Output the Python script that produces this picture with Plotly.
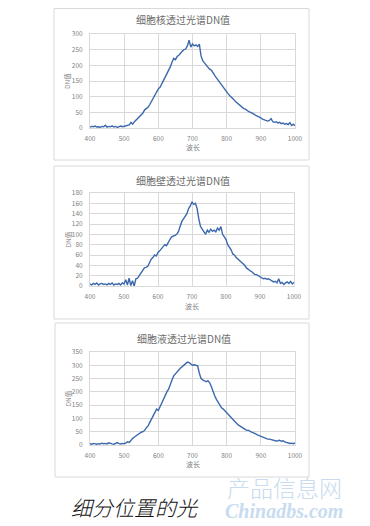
import plotly.graph_objects as go

wavelength = list(range(400, 1001, 5))

nucleus = [3, 5, 4, 6, 3, 4, 2, 5, 4, 9, 3, 5, 4, 7, 3, 5, 2, 4, 6, 4,
           5, 8, 7, 10, 18, 12, 20, 26, 32, 38, 45, 48, 58, 62, 66, 75, 85, 95, 105, 115,
           125, 130, 140, 155, 165, 175, 185, 195, 210, 222, 218, 228, 232, 240, 245, 250, 252, 262, 280, 258,
           268, 262, 265, 260, 268, 230, 215, 208, 200, 192, 188, 185, 175, 168, 160, 152, 148, 140, 132, 122,
           115, 108, 102, 98, 92, 85, 80, 76, 70, 66, 62, 60, 55, 52, 50, 48, 44, 40, 38, 35,
           32, 28, 26, 25, 22, 24, 30, 20, 18, 20, 16, 18, 14, 16, 12, 14, 11, 17, 8, 12,
           7]

cell_wall = [4, 2, 5, 3, 6, 2, 4, 5, 3, 4, 2, 5, 3, 6, 2, 4, 3, 5, 2, 6,
             4, 12, 2, 15, 1, 10, 0, 14, 15, 20, 25, 30, 35, 36, 38, 45, 52, 55, 60, 58,
             65, 68, 72, 75, 80, 78, 85, 90, 95, 96, 98, 100, 105, 115, 125, 130, 135, 140, 150, 155,
             163, 158, 160, 150, 130, 115, 110, 105, 100, 108, 104, 110, 106, 108, 105, 112, 108, 115, 100, 95,
             90, 80, 75, 70, 62, 60, 55, 52, 48, 45, 42, 40, 35, 32, 30, 28, 25, 22, 22, 20,
             18, 16, 14, 15, 13, 14, 12, 10, 8, 9, 6, 14, 5, 7, 3, 6, 8, 5, 9, 4,
             7]

cytoplasm = [5, 3, 6, 4, 3, 5, 4, 7, 5, 6, 4, 8, 5, 4, 3, 6, 9, 5, 4, 6,
             5, 8, 12, 10, 20, 25, 30, 35, 40, 45, 48, 50, 55, 65, 72, 85, 98, 110, 125, 135,
             130, 145, 160, 175, 190, 200, 210, 230, 245, 260, 268, 275, 280, 290, 295, 300, 308, 312, 310, 305,
             300, 302, 300, 298, 270, 250, 245, 240, 238, 242, 235, 220, 200, 185, 172, 160, 150, 140, 135, 128,
             120, 112, 105, 98, 90, 85, 80, 75, 70, 65, 62, 58, 55, 55, 50, 48, 45, 42, 38, 35,
             32, 30, 28, 25, 22, 22, 20, 18, 17, 15, 16, 18, 14, 16, 12, 10, 8, 6, 7, 5,
             8]

titles = ["细胞核透过光谱DN值", "细胞壁透过光谱DN值", "细胞液透过光谱DN值"]
x_title = "波长"
y_title = "DN值"
caption = "细分位置的光"
y_ranges = [(0, 300, 50), (0, 180, 20), (0, 350, 50)]
series = [nucleus, cell_wall, cytoplasm]

# the page body adds an 8px margin, so draw in a slightly smaller canvas
OFF = 8
W, H = 370 - OFF, 526 - OFF
def px(x): return (x - OFF) / W
def py(y): return 1 - (y - OFF) / H

panels = [
    dict(box=(54, 8.5, 309, 160), plot=(90, 34, 295, 128), title_y=20, xtitle_y=147),
    dict(box=(54, 166, 309, 319), plot=(90, 193, 294, 286), title_y=180, xtitle_y=306),
    dict(box=(55, 323, 309, 477), plot=(90, 352, 295, 445), title_y=338, xtitle_y=464),
]

FONT = "Noto Sans CJK SC"
LINE = "#3d68ad"
GRID = "#d9d9d9"
TXT = "#7f7f7f"
TITLE = "#6b6b6b"

fig = go.Figure()
layout = dict(width=W, height=H, margin=dict(l=0, r=0, t=0, b=0, pad=0),
              paper_bgcolor="white", plot_bgcolor="white", showlegend=False,
              font=dict(family=FONT, color=TXT), shapes=[], annotations=[])

for i, (p, ys, yr, t) in enumerate(zip(panels, series, y_ranges, titles)):
    n = "" if i == 0 else str(i + 1)
    fig.add_trace(go.Scatter(x=wavelength, y=ys, mode="lines",
                             line=dict(color=LINE, width=1.4),
                             xaxis="x" + n, yaxis="y" + n, hoverinfo="skip"))
    x0, y0, x1, y1 = p["plot"]
    layout["xaxis" + n] = dict(domain=[px(x0), px(x1)], anchor="y" + n, range=[400, 1000],
                               tickmode="linear", tick0=400, dtick=100, showgrid=True,
                               gridcolor=GRID, gridwidth=1, showline=True, linecolor=GRID,
                               mirror=True, zeroline=False, ticks="outside", ticklen=4,
                               tickcolor="rgba(0,0,0,0)", automargin=False,
                               tickfont=dict(size=6.5, color=TXT, family=FONT))
    layout["yaxis" + n] = dict(domain=[py(y1), py(y0)], anchor="x" + n, range=[yr[0], yr[1]],
                               tickmode="linear", tick0=0, dtick=yr[2], showgrid=True,
                               gridcolor=GRID, gridwidth=1, showline=True, linecolor=GRID,
                               mirror=True, zeroline=False, ticks="outside", ticklen=5,
                               tickcolor="rgba(0,0,0,0)", automargin=False,
                               tickfont=dict(size=6.5, color=TXT, family=FONT))
    bx0, by0, bx1, by1 = p["box"]
    layout["shapes"].append(dict(type="rect", xref="paper", yref="paper",
                                 x0=px(bx0), x1=px(bx1), y0=py(by1), y1=py(by0),
                                 line=dict(color="#d9d9d9", width=1)))
    layout["annotations"].append(dict(text=t, xref="paper", yref="paper",
                                      x=px((bx0 + bx1) / 2 + 1.5), y=py(p["title_y"]),
                                      showarrow=False, xanchor="center", yanchor="middle",
                                      font=dict(size=10, color=TITLE, family=FONT)))
    layout["annotations"].append(dict(text=x_title, xref="paper", yref="paper",
                                      x=px((x0 + x1) / 2), y=py(p["xtitle_y"]),
                                      showarrow=False, xanchor="center", yanchor="middle",
                                      font=dict(size=7, color=TXT, family=FONT)))
    layout["annotations"].append(dict(text=y_title, xref="paper", yref="paper",
                                      x=px(67), y=py((y0 + y1) / 2), textangle=-90,
                                      showarrow=False, xanchor="center", yanchor="middle",
                                      font=dict(size=6.5, color=TXT, family=FONT)))

layout["annotations"].append(dict(text="<i>" + caption + "</i>", xref="paper", yref="paper",
                                  x=px(69), y=py(507), showarrow=False,
                                  xanchor="left", yanchor="middle",
                                  font=dict(size=21, color="#111111", family=FONT, weight=300)))
layout["annotations"].append(dict(text="产品信息网", xref="paper", yref="paper",
                                  x=px(284), y=py(487), showarrow=False,
                                  xanchor="center", yanchor="middle",
                                  font=dict(size=23, color="#c8dbef", family=FONT, weight=300)))
layout["annotations"].append(dict(text="<b><i>Chinadbs.com</i></b>", xref="paper", yref="paper",
                                  x=px(284), y=py(511), showarrow=False,
                                  xanchor="center", yanchor="middle",
                                  font=dict(size=20, color="#c8dbef", family="Liberation Serif")))

fig.update_layout(**layout)
fig.write_html("out.html")
